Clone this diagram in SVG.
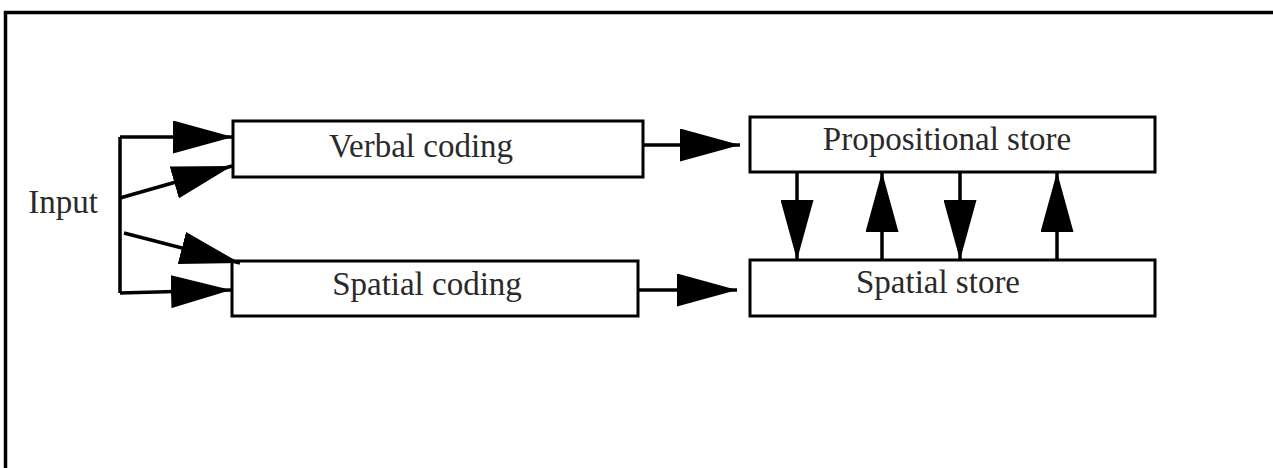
<svg xmlns="http://www.w3.org/2000/svg" width="1273" height="468" viewBox="0 0 1273 468">
<style>
.box{fill:#fff;stroke:#000;stroke-width:3}
.lbl{font-family:"Liberation Serif","Times New Roman",serif;font-size:33px;fill:#2a2a2a;text-anchor:middle}
.ln{stroke:#000;stroke-width:3.5;fill:none}
</style>
<defs>
<marker id="ah" viewBox="0 0 60 33" refX="60" refY="16.5" markerWidth="60" markerHeight="33" markerUnits="userSpaceOnUse" orient="auto">
<path d="M0,0 L60,16.5 L0,33 z" fill="#000"/>
</marker>
</defs>
<rect width="1273" height="468" fill="#fff"/>
<path d="M5.5,468 V12.5 H1273" fill="none" stroke="#000" stroke-width="3.5"/>
<g id="input"><text x="63" y="213" class="lbl">Input</text></g>
<g id="verbal"><rect class="box" x="233" y="121" width="410" height="56"/><text class="lbl" x="421" y="157">Verbal coding</text></g>
<g id="spatialcoding"><rect class="box" x="232" y="261" width="406" height="55"/><text class="lbl" x="427" y="295">Spatial coding</text></g>
<g id="prop"><rect class="box" x="750" y="117" width="405" height="55"/><text class="lbl" x="947" y="150">Propositional store</text></g>
<g id="spatialstore"><rect class="box" x="750" y="260" width="405" height="56"/><text class="lbl" x="938" y="293">Spatial store</text></g>
<g id="connectors">
<path class="ln" d="M120,137 V293"/>
<line class="ln" x1="120" y1="137" x2="233" y2="137" marker-end="url(#ah)"/>
<line class="ln" x1="120" y1="198" x2="232" y2="166" marker-end="url(#ah)"/>
<line class="ln" x1="124" y1="233" x2="240" y2="263" marker-end="url(#ah)"/>
<line class="ln" x1="120" y1="293" x2="231" y2="290" marker-end="url(#ah)"/>
<line class="ln" x1="643" y1="145" x2="740" y2="145" marker-end="url(#ah)"/>
<line class="ln" x1="638" y1="290" x2="737" y2="290" marker-end="url(#ah)"/>
<line class="ln" x1="797" y1="172" x2="797" y2="260" marker-end="url(#ah)"/>
<line class="ln" x1="882" y1="260" x2="882" y2="172" marker-end="url(#ah)"/>
<line class="ln" x1="960" y1="172" x2="960" y2="260" marker-end="url(#ah)"/>
<line class="ln" x1="1057" y1="260" x2="1057" y2="172" marker-end="url(#ah)"/>
</g>
</svg>
